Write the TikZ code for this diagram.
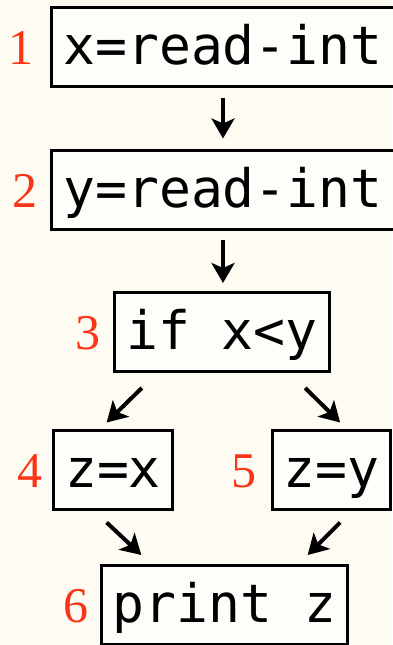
\documentclass[tikz,border=0pt]{standalone}
\usepackage{fontspec}
\newfontfamily\codefont{DejaVu Sans Mono}
\newfontfamily\numfont{Liberation Serif}
\usetikzlibrary{arrows.meta}
\definecolor{bgcream}{RGB}{253,251,242}
\definecolor{numred}{RGB}{250,52,22}
\tikzset{
  codebox/.style={draw=black, line width=3pt, fill=white!60!bgcream, outer sep=0pt,
    inner xsep=11.5pt, inner ysep=0pt, minimum height=79pt,
    text height=48pt, text depth=13pt,
    font=\codefont\fontsize{53}{60}\selectfont},
  numlabel/.style={text=numred, anchor=base east, inner sep=0pt,
    font=\numfont\fontsize{50}{60}\selectfont},
  arr/.style={line width=4pt, -{Stealth[length=20pt,width=23pt,inset=5pt]}}
}
\begin{document}
\begin{tikzpicture}[x=1pt,y=1pt]
\useasboundingbox (0,0) rectangle (392,645);
\fill[bgcream] (0,0) rectangle (392,645);
\node[codebox] (b1) at (223,597.5) {x=read-int};
\node[codebox] (b2) at (223,455) {y=read-int};
\node[codebox] (b3) at (222,312.5) {if x<y};
\node[codebox] (b4) at (113,175) {z=x};
\node[codebox] (b5) at (331.5,175) {z=y};
\node[codebox] (b6) at (224.5,39.5) {print z};
\node[numlabel] (n1) at ([xshift=-18pt]b1.base west) {1};
\node[numlabel] (n2) at ([xshift=-14pt]b2.base west) {2};
\node[numlabel] (n3) at ([xshift=-14pt]b3.base west) {3};
\node[numlabel] (n4) at ([xshift=-11pt]b4.base west) {4};
\node[numlabel] (n5) at ([xshift=-15pt]b5.base west) {5};
\node[numlabel] (n6) at ([xshift=-13pt]b6.base west) {6};
\draw[arr, shorten <=11pt, shorten >=12pt] (b1) -- (b2);
\draw[arr, shorten <=11pt, shorten >=10pt] (b2.south) -- (b2.south |- b3.north);
\draw[arr] ([shift={(27pt,-16pt)}]b3.south west) -- ([shift={(53pt,8pt)}]b4.north west);
\draw[arr] ([shift={(-24pt,-16pt)}]b3.south east) -- ([shift={(68pt,8pt)}]b5.north west);
\draw[arr] ([shift={(53pt,-13pt)}]b4.south west) -- ([shift={(40pt,11pt)}]b6.north west);
\draw[arr] ([shift={(68pt,-13pt)}]b5.south west) -- ([shift={(-40pt,11pt)}]b6.north east);
\end{tikzpicture}
\end{document}
